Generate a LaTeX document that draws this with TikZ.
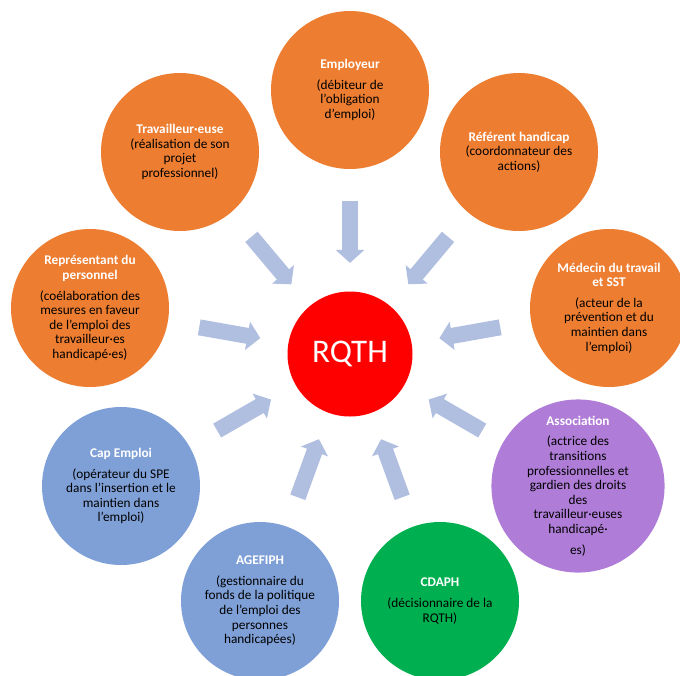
\documentclass[tikz,border=0pt]{standalone}
\usepackage{fontspec}
\setmainfont{Carlito}
\usetikzlibrary{arrows.meta,calc}
\definecolor{orangeact}{RGB}{237,125,49}
\definecolor{blueact}{RGB}{127,160,215}
\definecolor{purpleact}{RGB}{175,125,215}
\definecolor{greenact}{RGB}{0,176,80}
\definecolor{arrowblue}{RGB}{176,190,224}
\newcommand{\titre}[1]{\textcolor{white}{\textbf{#1}}}
\begin{document}
\begin{tikzpicture}[x=1pt,y=1pt]
\tikzstyle{every node}+=[inner sep=0pt]
\tikzstyle{actor}=[circle,minimum size=158pt,align=center,font=\fontsize{13.3}{14.6}\selectfont]
\tikzstyle{flow}=[line width=16pt,arrowblue,-{Triangle[width=28pt,length=13pt]}]
\useasboundingbox (0,0) rectangle (680,-675);
\node [circle,fill=red,minimum size=125pt,text=white,font=\fontsize{33}{36}\selectfont] (rqth) at (350,-354) {RQTH};
\node [actor,fill=orangeact] (emp) at (350,-90) {\titre{Employeur}\\[6pt](débiteur de\\l'obligation\\d'emploi)};
\node [actor,fill=orangeact] (trav) at (180,-152) {\titre{Travailleur·euse}\\(réalisation de son\\projet\\professionnel)};
\node [actor,fill=orangeact] (ref) at (519,-152) {\titre{Référent handicap}\\(coordonnateur des\\actions)};
\node [actor,fill=orangeact] (rep) at (90,-308) {\titre{Représentant du}\\\titre{personnel}\\[6pt](coélaboration des\\mesures en faveur\\de l'emploi des\\travailleur·es\\handicapé·es)};
\node [actor,fill=orangeact] (med) at (609,-308) {\titre{Médecin du travail}\\\titre{et SST}\\[6pt](acteur de la\\prévention et du\\maintien dans\\l'emploi)};
\node [actor,fill=blueact] (cap) at (121,-486) {\titre{Cap Emploi}\\[6pt](opérateur du SPE\\dans l'insertion et le\\maintien dans\\l'emploi)};
\node [actor,fill=purpleact] (asso) at (578,-486) {\titre{Association}\\[6pt](actrice des\\transitions\\professionnelles et\\gardien des droits\\des\\travailleur·euses\\handicapé·\\[6pt]es)};
\node [actor,fill=blueact] (agef) at (260,-601) {\titre{AGEFIPH}\\[6pt](gestionnaire du\\fonds de la politique\\de l'emploi des\\personnes\\handicapées)};
\node [actor,fill=greenact] (cdaph) at (440,-601) {\titre{CDAPH}\\[6pt](décisionnaire de la\\RQTH)};
\draw [flow] ($(emp)!0.42!(rqth)$) -- ($(emp)!0.655!(rqth)$);
\draw [flow] ($(trav)!0.42!(rqth)$) -- ($(trav)!0.655!(rqth)$);
\draw [flow] ($(ref)!0.42!(rqth)$) -- ($(ref)!0.655!(rqth)$);
\draw [flow] ($(rep)!0.42!(rqth)$) -- ($(rep)!0.655!(rqth)$);
\draw [flow] ($(med)!0.42!(rqth)$) -- ($(med)!0.655!(rqth)$);
\draw [flow] ($(cap)!0.42!(rqth)$) -- ($(cap)!0.655!(rqth)$);
\draw [flow] ($(asso)!0.42!(rqth)$) -- ($(asso)!0.655!(rqth)$);
\draw [flow] ($(agef)!0.42!(rqth)$) -- ($(agef)!0.655!(rqth)$);
\draw [flow] ($(cdaph)!0.42!(rqth)$) -- ($(cdaph)!0.655!(rqth)$);
\end{tikzpicture}
\end{document}
